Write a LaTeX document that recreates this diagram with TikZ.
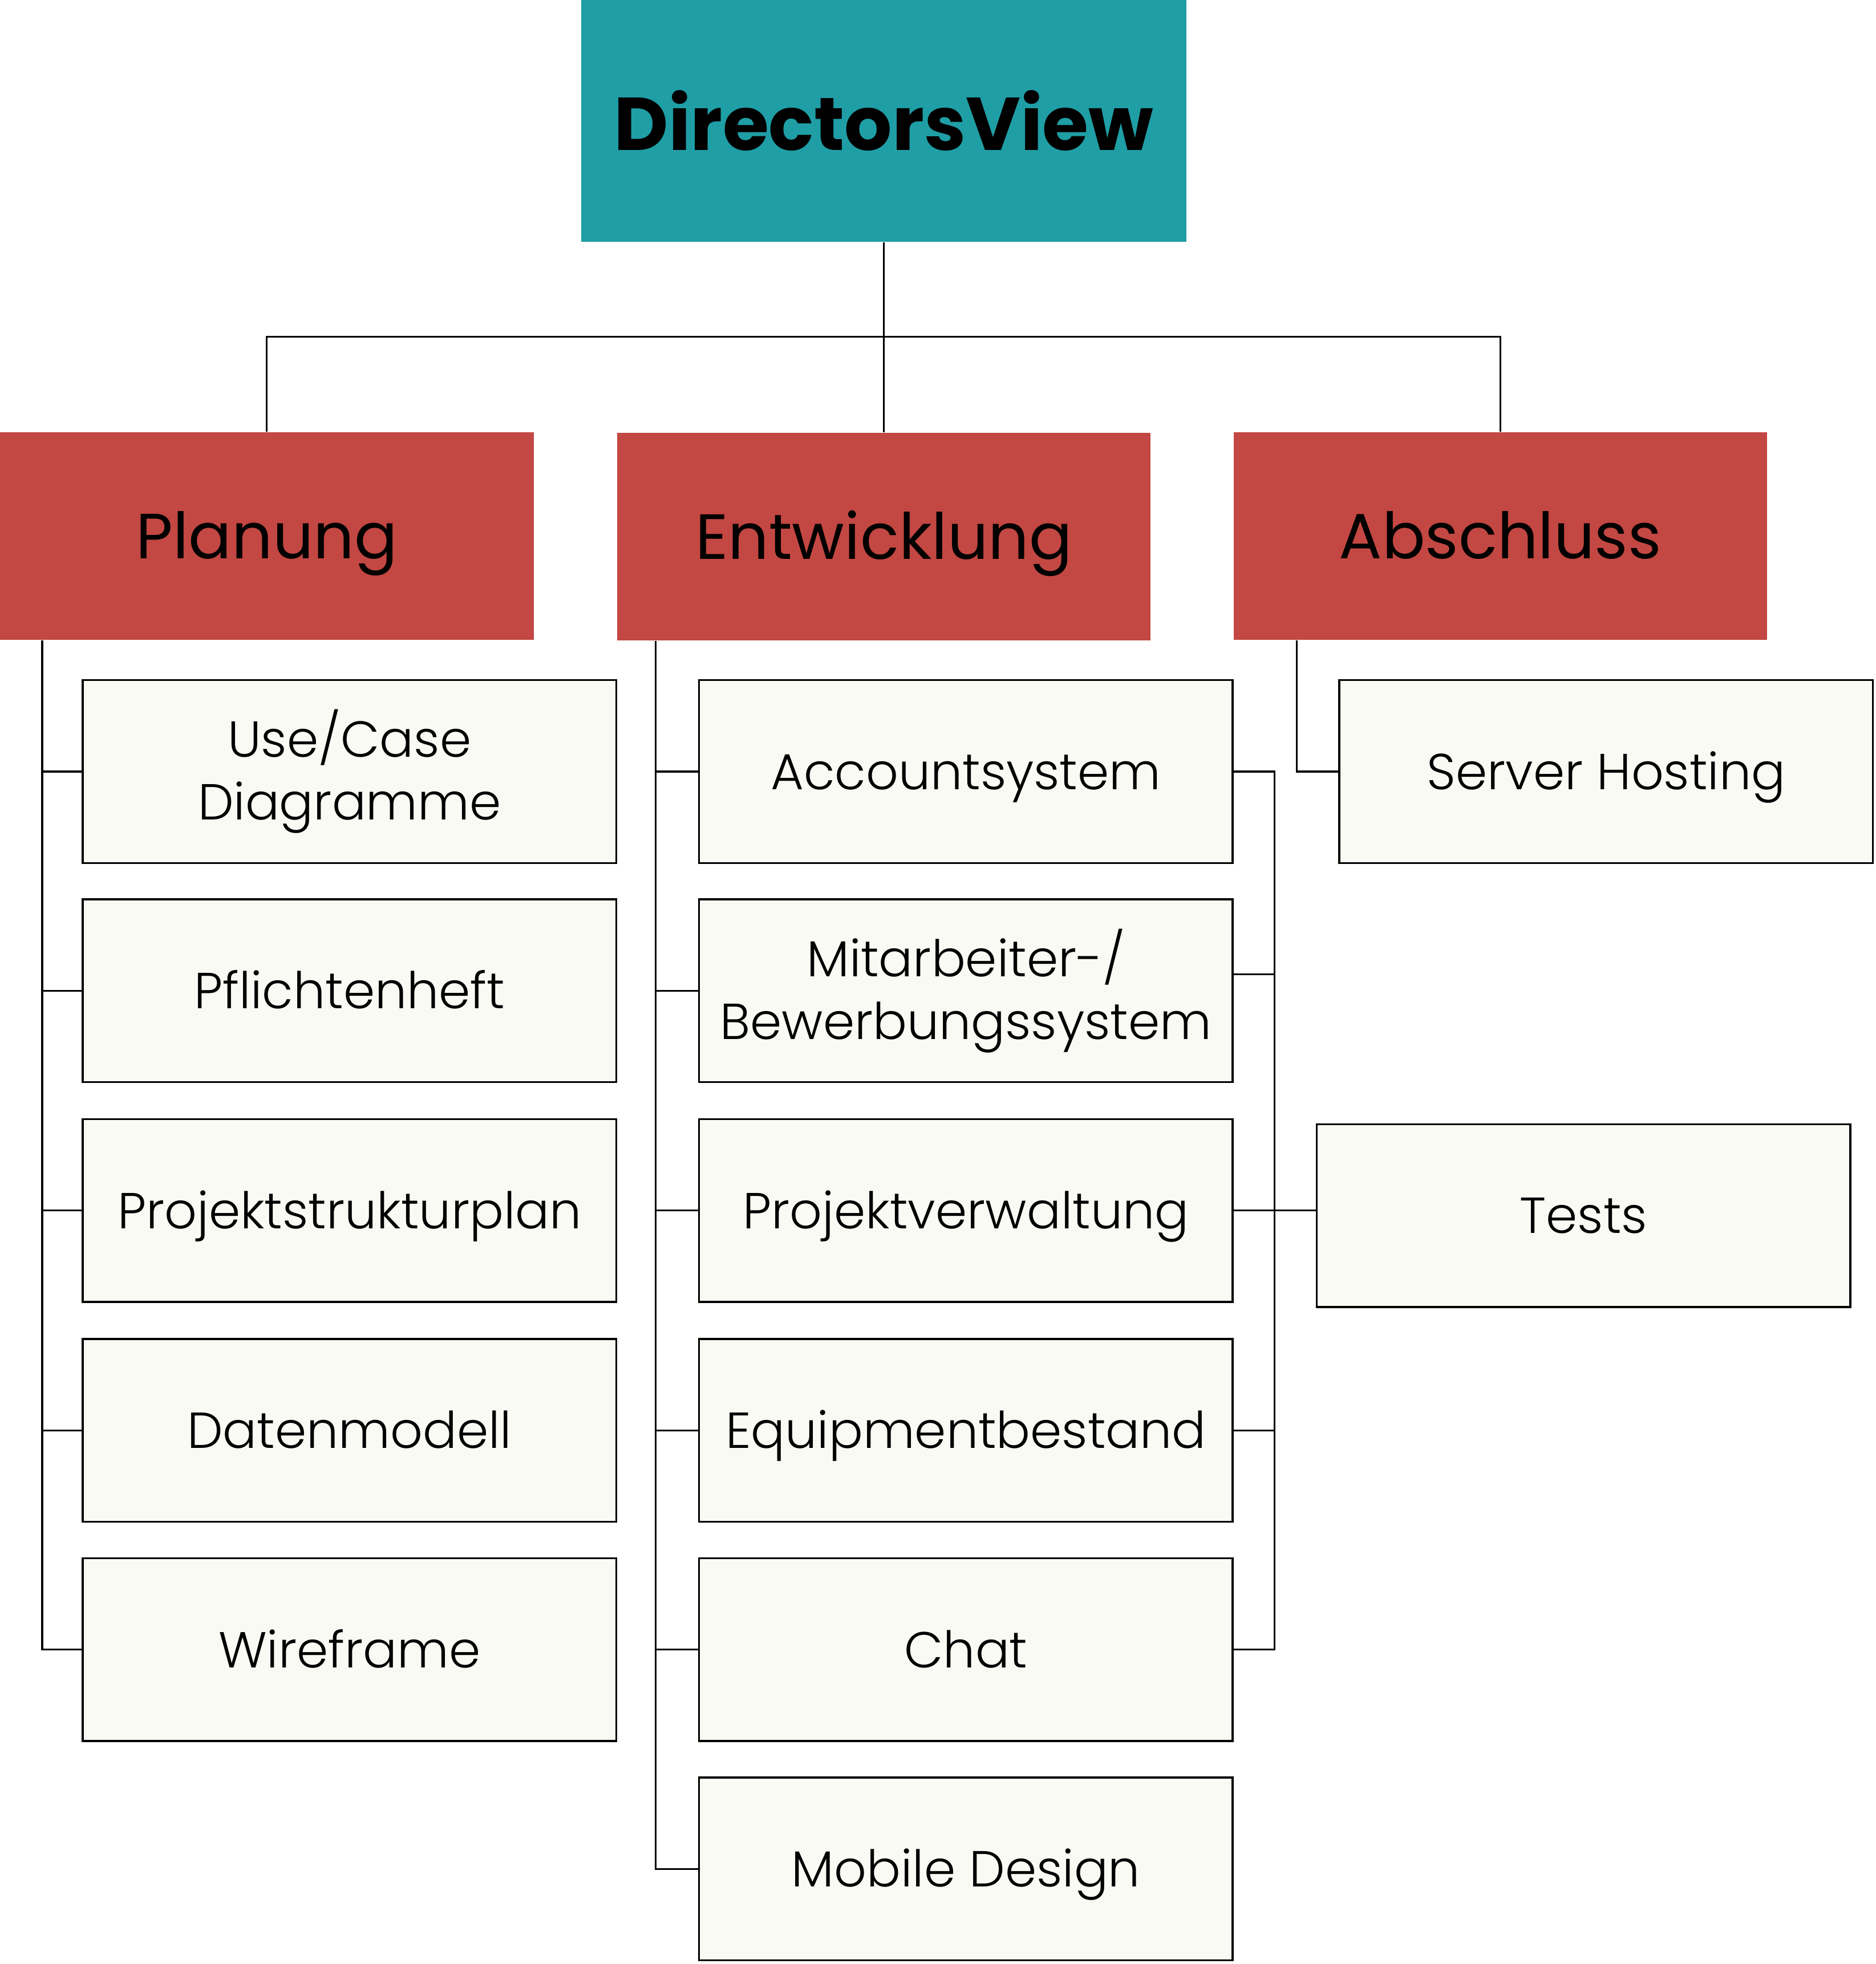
\documentclass[tikz,border=0pt]{standalone}
\usepackage{fontspec}
\setmainfont{Poppins}
\newfontfamily\lightfont{Poppins Light}
\usetikzlibrary{positioning}
\definecolor{headteal}{RGB}{31,158,165}
\definecolor{phasered}{RGB}{195,71,66}
\definecolor{taskfill}{RGB}{249,250,243}

\begin{document}
\begin{tikzpicture}[
    x=0.02cm, y=-0.02cm,
    root/.style={rectangle, fill=headteal, minimum width=9.66cm, minimum height=3.86cm, font=\fontsize{34}{38}\selectfont\bfseries},
    phase/.style={rectangle, fill=phasered, minimum width=8.52cm, minimum height=3.32cm, text height=0.71cm, text depth=0pt, font=\fontsize{29}{32}\selectfont},
    task/.style={rectangle, draw, line width=0.9pt, fill=taskfill, minimum width=8.52cm, minimum height=2.92cm, align=center, font=\lightfont\fontsize{23}{28.5}\selectfont},
    oneline/.style={task, text height=0.57cm, text depth=0pt},
    link/.style={line width=0.8pt}
]
\useasboundingbox (0,0) rectangle (1497,1568);

% ============ top ============
\node[root] (root) at (705.5,96.5) {DirectorsView};

% ============ phases ============
\node[phase] (plan) at (213,428) {Planung};
\node[phase] (entw) at (705.5,428.5) {Entwicklung};
\node[phase] (absch) at (1197.5,428) {Abschluss};

\coordinate (hub) at (705.5,269);
\draw[link] (root) -- (entw);
\draw[link] (plan.north) |- (hub) -| (absch.north);

% ============ Planung ============
\node[task] (p1) at (279,616) {Use/Case\\Diagramme};
\node[oneline] (p2) at (279,791) {Pflichtenheft};
\node[oneline] (p3) at (279,966.5) {Projektstrukturplan};
\node[oneline] (p4) at (279,1142) {Datenmodell};
\node[oneline] (p5) at (279,1317) {Wireframe};

\foreach \n in {p1,p2,p3,p4,p5}
    \draw[link] ([xshift=0.68cm]plan.south west) |- (\n.west);

% ============ Entwicklung ============
\node[oneline] (e1) at (771,616) {Accountsystem};
\node[task] (e2) at (771,791) {Mitarbeiter-/\\Bewerbungssystem};
\node[oneline] (e3) at (771,966.5) {Projektverwaltung};
\node[oneline] (e4) at (771,1142) {Equipmentbestand};
\node[oneline] (e5) at (771,1317) {Chat};
\node[oneline] (e6) at (771,1492) {Mobile Design};

\foreach \n in {e1,e2,e3,e4,e5,e6}
    \draw[link] ([xshift=0.62cm]entw.south west) |- (\n.west);

% ============ Abschluss ============
\node[oneline] (srv) at (1282,616) {Server Hosting};
\node[oneline] (tests) at (1264,970.5) {Tests};

\draw[link] ([xshift=1.02cm]absch.south west) |- (srv.west);

\coordinate (bus) at ([xshift=-0.66cm]tests.west);
\foreach \n in {e1,e4,e5}
    \draw[link] (\n.east) -| (bus);
\draw[link] ([yshift=0.26cm]e2.east) -| (bus);
\draw[link] (e3.east) -- (e3.east -| tests.west);

\end{tikzpicture}
\end{document}
